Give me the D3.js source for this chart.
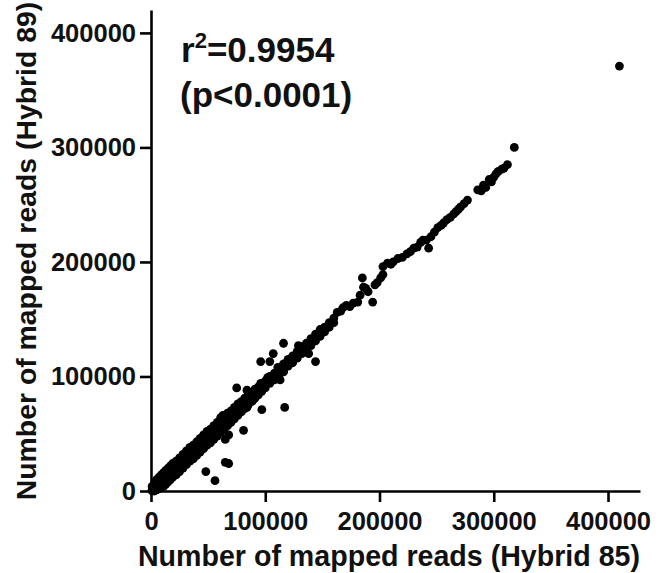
<!DOCTYPE html>
<html>
<head>
<meta charset="utf-8">
<script src="https://cdn.jsdelivr.net/npm/d3@7"></script>
<style>
  html, body { margin: 0; padding: 0; background: #fff; }
  text { font-family: "Liberation Sans", Arial, sans-serif; font-weight: bold; fill: #111; }
</style>
</head>
<body>
<div id="chart"></div>
<script>
// mapped reads, in thousands: [Hybrid 85, Hybrid 89]
const points = [
  [1,0],[1,1],[1,4],[3,0],[3,3],[3,7],[5,1],[5,5],[5,10],[7,2],[7,7],[7,12],
  [9,3],[9,8],[9,14],[11,4],[11,10],[11,16],[13,6],[13,12],[13,18],[15,8],[15,14],[15,20],
  [17,10],[17,16],[17,22],[19,12],[19,18],[19,24],[22,14],[22,20],[22,26],[25,17],[25,23],[25,29],
  [28,20],[28,26],[28,32],[31,23],[31,29],[31,35],[34,26],[34,32],[34,38],[37,28],[37,34],[37,40],
  [40,31],[40,37],[40,43],[43,34],[43,40],[43,46],[46,37],[46,43],[46,49],[49,40],[49,46],[49,52],
  [52,42],[52,48],[52,54],[55,45],[55,51],[55,57],[58,48],[58,54],[58,60],[61,51],[61,57],[61,63],
  [64,54],[64,60],[64,66],[67,57],[67,62],[67,68],[70,60],[70,65],[70,70],[73,63],[73,68],[73,73],
  [76,66],[76,71],[76,76],[79,69],[79,73],[79,78],[82,72],[82,76],[82,81],[85,75],[85,79],[85,84],
  [88,78],[88,82],[88,86],[91,81],[91,85],[91,89],[94,84],[94,87],[94,91],[97,87],[97,90],[97,94],
  [100,90],[100,93],[100,96],[104,94],[104,97],[104,100],[108,97],[108,100],[108,103],[112,101],[112,104],[112,107],
  [116,105],[116,108],[116,111],[120,109],[120,112],[120,115],[124,112],[124,115],[124,118],[128,116],[128,119],[128,122],
  [132,120],[132,123],[132,126],[136,123],[136,126],[136,129],[140,127],[140,130],[140,133],[144,131],[144,134],[144,137],
  [148,135],[148,138],[148,141],[152,139],[152,143],[156,143],[156,147],[160,147],[160,151],
  [163,156],[166,157],[168,160],[171,162],[174,161],[177,164],[181,165],[183,171],[185,186],[186,178],[188,177],[190,174],
  [194,165],[196,180],[198,182],[201,186],[203,189],[203,196],[207,199],[210,198],[212,200],[216,203],[220,204],[224,207],
  [227,209],[230,212],[233,213],[236,217],[238,219],[243,212],[241,219],[245,222],[248,226],[251,230],[254,232],[256,234],
  [259,237],[262,239],[265,242],[267,244],[269,246],[271,248],[274,251],[277,254],[286,263],[289,262],[291,267],[293,265],
  [296,272],[298,270],[300,274],[302,277],[304,279],[307,281],[309,282],[312,285],[318,300],[410,371],
  [116,129],[129,127],[107,120],[96,113],[104,113],[144,113],[138,120],[125,116],[128,120],[119,112],[111,108],[116,104],
  [113,97],[102,99],[96,94],[75,90],[84,88],[89,79],[84,73],[78,71],[97,71],[117,73],[81,53],[68,49],
  [65,45],[61,64],[63,66],[72,66],[48,17],[56,9],[68,24],[65,25]
];

const xTicks = [0, 100, 200, 300, 400];
const yTicks = [0, 100, 200, 300, 400];
const tickLabels = ["0", "100000", "200000", "300000", "400000"];

const xTitle = "Number of mapped reads (Hybrid 85)";
const yTitle = "Number of mapped reads (Hybrid 89)";
const statLines = ["=0.9954", "(p<0.0001)"];

const W = 660, H = 573;

const svg = d3.select("#chart")
  .append("svg")
  .attr("width", W)
  .attr("height", H);

const x = d3.scaleLinear().domain([0, 428]).range([151, 640]);
const y = d3.scaleLinear().domain([0, 420]).range([491, 10]);

const gx = svg.append("g")
  .attr("transform", `translate(0,${y(0)})`)
  .call(d3.axisBottom(x)
    .tickValues(xTicks)
    .tickFormat((d, i) => tickLabels[i])
    .tickSize(11)
    .tickPadding(10)
    .tickSizeOuter(0));

const gy = svg.append("g")
  .attr("transform", `translate(${x(0)},0)`)
  .call(d3.axisLeft(y)
    .tickValues(yTicks)
    .tickFormat((d, i) => tickLabels[i])
    .tickSize(11)
    .tickPadding(4)
    .tickSizeOuter(0));

[gx, gy].forEach(g => {
  g.select(".domain").attr("stroke", "#000").attr("stroke-width", 2.6);
  g.selectAll(".tick line").attr("stroke", "#000").attr("stroke-width", 2.6);
  g.selectAll(".tick text")
    .attr("fill", "#111")
    .style("font-size", "25.5px")
    .style("font-family", "'Liberation Sans', Arial, sans-serif")
    .style("font-weight", "bold");
});

svg.append("g")
  .selectAll("circle")
  .data(points)
  .enter()
  .append("circle")
  .attr("cx", d => x(d[0]))
  .attr("cy", d => y(d[1]))
  .attr("r", 4.4)
  .attr("fill", "#000");

svg.append("text")
  .attr("x", 389)
  .attr("y", 566)
  .attr("text-anchor", "middle")
  .style("font-size", "28.6px")
  .text(xTitle);

svg.append("text")
  .attr("transform", "translate(36,251) rotate(-90)")
  .attr("text-anchor", "middle")
  .style("font-size", "28.4px")
  .text(yTitle);

const stat = svg.append("text")
  .attr("x", 181)
  .attr("y", 62)
  .style("font-size", "35px");
stat.append("tspan").text("r");
stat.append("tspan").attr("dy", -14).style("font-size", "22px").text("2");
stat.append("tspan").attr("dy", 14).text(statLines[0]);

svg.append("text")
  .attr("x", 180)
  .attr("y", 107)
  .style("font-size", "35px")
  .text(statLines[1]);
</script>
</body>
</html>
